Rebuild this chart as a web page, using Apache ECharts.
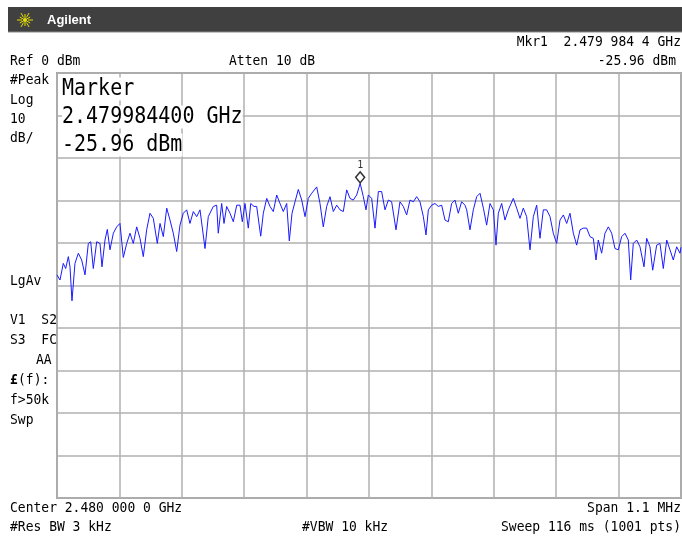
<!DOCTYPE html>
<html>
<head>
<meta charset="utf-8">
<script src="https://cdn.jsdelivr.net/npm/echarts@6/dist/echarts.min.js"></script>
<style>
  html, body { margin: 0; padding: 0; background: #fff; }
  #chart { width: 682px; height: 537px; }
</style>
</head>
<body>
<div id="chart"></div>
<script>
// Sweep settings (frequency offsets in kHz from the centre frequency)
const spanKHz = 1100;
const divKHz = 110;
const refLevelDbm = 0;
const dbPerDiv = 10;

// Trace: [offset kHz, level dBm]
const trace = [
  [-550,-47.5],[-544.7,-48.7],[-538.9,-44.8],[-534.7,-46.0],[-530.0,-43.2],[-527.1,-45.6],[-523.6,-53.6],[-518.3,-44.8],
  [-512.4,-42.4],[-506.5,-44.0],[-500.6,-47.5],[-494.8,-40.1],[-490.6,-39.7],[-486.0,-46.0],[-480.0,-39.7],[-474.2,-40.1],
  [-470.7,-45.6],[-465.4,-39.3],[-461.3,-36.8],[-456.6,-41.6],[-450.7,-37.7],[-444.8,-36.2],[-439.0,-35.4],[-433.1,-43.4],
  [-427.1,-40.1],[-421.3,-37.7],[-415.5,-40.1],[-409.5,-36.2],[-403.7,-38.9],[-397.9,-43.2],[-391.9,-36.9],[-386.1,-33.0],
  [-380.2,-34.2],[-373.2,-40.1],[-368.4,-35.4],[-362.6,-38.5],[-356.6,-31.8],[-350.8,-34.6],[-345.0,-37.7],[-339.0,-42.0],
  [-333.2,-35.8],[-327.4,-33.0],[-321.4,-32.2],[-315.6,-35.4],[-309.7,-32.6],[-303.7,-33.8],[-297.9,-32.2],[-289.1,-41.3],
  [-283.3,-33.8],[-274.5,-31.4],[-268.5,-31.1],[-265.7,-37.7],[-259.7,-30.7],[-255.6,-35.4],[-250.9,-31.4],[-245.0,-33.0],
  [-239.2,-35.0],[-233.2,-31.1],[-227.4,-31.1],[-223.3,-35.0],[-218.6,-30.7],[-212.8,-36.5],[-208.5,-30.7],[-202.7,-31.4],
  [-198.0,-31.4],[-190.9,-38.4],[-186.3,-33.0],[-180.3,-29.5],[-174.5,-31.4],[-168.7,-32.6],[-162.7,-28.7],[-156.9,-30.7],
  [-151.1,-32.6],[-145.1,-30.7],[-140.5,-39.5],[-135.7,-33.0],[-130.4,-30.3],[-124.6,-27.4],[-118.6,-29.9],[-112.8,-33.8],
  [-107.0,-29.5],[-101.0,-28.3],[-92.2,-26.8],[-86.4,-30.7],[-80.6,-36.2],[-74.6,-31.4],[-68.7,-29.1],[-62.9,-32.6],
  [-56.9,-31.1],[-51.1,-32.2],[-45.3,-32.6],[-39.3,-27.5],[-33.5,-29.5],[-27.7,-29.9],[-21.7,-28.7],[-15.6,-25.96],
  [-10.0,-29.1],[-5.3,-32.2],[-1.2,-28.7],
  [4.7,-29.5],[10.6,-36.5],[16.5,-27.9],[22.3,-27.9],[28.2,-32.2],[34.1,-29.9],[39.9,-30.3],[47.6,-36.9],
  [54.6,-30.3],[60.5,-31.4],[66.4,-33.4],[72.3,-29.9],[78.2,-30.3],[84.0,-29.1],[89.9,-30.3],[95.8,-33.8],
  [100.5,-38.1],[104.6,-32.2],[110.4,-31.1],[116.3,-30.7],[122.2,-31.4],[128.1,-31.1],[134.0,-34.6],[139.8,-35.0],
  [145.7,-30.7],[151.6,-29.9],[157.4,-33.0],[163.3,-30.3],[169.2,-31.1],[172.2,-32.2],[178.0,-36.9],[183.9,-32.2],
  [189.8,-29.1],[195.7,-28.3],[201.6,-31.8],[207.4,-35.8],[213.3,-30.7],[219.2,-32.2],[223.9,-40.5],[228.0,-33.0],
  [233.9,-30.7],[239.7,-34.6],[245.6,-32.2],[254.4,-29.5],[260.3,-31.8],[266.2,-34.2],[272.0,-31.8],[277.9,-33.8],
  [283.8,-41.6],[289.7,-33.8],[295.6,-31.1],[301.4,-38.9],[307.3,-32.2],[313.2,-32.2],[319.1,-33.8],[324.9,-37.7],
  [330.8,-40.1],[336.7,-34.6],[342.6,-33.4],[348.5,-35.4],[354.3,-33.0],[360.2,-37.7],[366.1,-40.5],[372.0,-36.9],
  [377.8,-36.5],[383.7,-36.5],[389.6,-38.5],[395.4,-38.9],[400.2,-44.0],[404.2,-39.3],[410.1,-42.4],[416.0,-37.7],
  [421.9,-36.2],[427.8,-37.7],[433.6,-41.3],[439.5,-41.6],[445.4,-38.5],[451.3,-37.7],[457.1,-39.3],[461.3,-48.7],
  [465.9,-40.1],[471.9,-39.3],[477.7,-40.9],[484.8,-45.6],[489.5,-38.9],[495.3,-40.9],[500.1,-46.4],[507.1,-40.5],
  [512.9,-40.1],[518.8,-46.0],[524.8,-39.3],[530.6,-41.6],[536.4,-44.0],[542.4,-40.9],[548.2,-42.4],[550,-41.0]
];

// Marker 1
const markerKHz = -15.6;
const markerDbm = -25.96;

// Annotation texts
const headerTexts = {
  mkr: 'Mkr1  2.479 984 4 GHz',
  ref: 'Ref 0 dBm',
  atten: 'Atten 10 dB',
  mkrLevel: '-25.96 dBm'
};
const footerTexts = {
  center: 'Center 2.480 000 0 GHz',
  span: 'Span 1.1 MHz',
  rbw: '#Res BW 3 kHz',
  vbw: '#VBW 10 kHz',
  sweep: 'Sweep 116 ms (1001 pts)'
};
const markerBoxLines = ['Marker', '2.479984400 GHz', '-25.96 dBm'];

const MONO = "'DejaVu Sans Mono', 'Liberation Mono', monospace";

function txt(x, y, s, opts) {
  opts = opts || {};
  return {
    type: 'text', x: x, y: y, z: 100,
    scaleY: opts.sy || 1.08,
    style: {
      text: s,
      font: (opts.weight || 'normal') + ' ' + (opts.size || 13) + 'px ' + (opts.family || MONO),
      fill: opts.color || '#000',
      textAlign: opts.align || 'left',
      textVerticalAlign: 'middle',
      backgroundColor: opts.bg,
      padding: opts.pad
    }
  };
}

// Starburst logo
function logo(cx, cy) {
  const rays = [];
  for (let i = 0; i < 12; i++) {
    const a = i * Math.PI / 6;
    const r0 = (i % 2) ? 2 : 3, r1 = (i % 2) ? 6 : 8;
    rays.push({
      type: 'line', z: 101,
      shape: { x1: cx + r0 * Math.cos(a), y1: cy + r0 * Math.sin(a), x2: cx + r1 * Math.cos(a), y2: cy + r1 * Math.sin(a) },
      style: { stroke: '#e6e000', lineWidth: 1 }
    });
  }
  rays.push({ type: 'circle', z: 101, shape: { cx: cx, cy: cy, r: 2 }, style: { fill: '#e6e000' } });
  return rays;
}

const graphics = [
  { type: 'rect', z: 99, shape: { x: 8, y: 7, width: 674, height: 25 }, style: { fill: '#404040' } },
  { type: 'line', z: 99, shape: { x1: 8, y1: 32, x2: 682, y2: 32 }, style: { stroke: '#8a8a8a', lineWidth: 1 } },
  ...logo(25, 20),
  txt(47, 20, 'Agilent', { family: "'Liberation Sans', Arial, sans-serif", weight: 'bold', size: 13, color: '#fff', sy: 1 }),

  txt(681, 42, headerTexts.mkr, { align: 'right' }),
  txt(10, 61, headerTexts.ref),
  txt(229, 61, headerTexts.atten),
  txt(676, 61, headerTexts.mkrLevel, { align: 'right' }),

  txt(10, 80, '#Peak'),
  txt(10, 100, 'Log'),
  txt(10, 119, '10'),
  txt(10, 138, 'dB/'),
  txt(10, 281, 'LgAv'),
  txt(10, 320, 'V1  S2'),
  txt(10, 340, 'S3  FC'),
  txt(36, 360, 'AA'),
  txt(10, 380, '£', { weight: 'bold' }),
  txt(18, 380, '(f):'),
  txt(10, 400, 'f>50k'),
  txt(10, 420, 'Swp'),

  txt(62, 89, markerBoxLines[0], { size: 20, bg: '#fff', sy: 1.15 }),
  txt(62, 117, markerBoxLines[1], { size: 20, bg: '#fff', sy: 1.15 }),
  txt(62, 145, markerBoxLines[2], { size: 20, bg: '#fff', sy: 1.15 }),

  txt(10, 508, footerTexts.center),
  txt(681, 508, footerTexts.span, { align: 'right' }),
  txt(10, 527, footerTexts.rbw),
  txt(302, 527, footerTexts.vbw),
  txt(681, 527, footerTexts.sweep, { align: 'right' })
];

const chart = echarts.init(document.getElementById('chart'), null, { renderer: 'canvas' });
chart.setOption({
  animation: false,
  backgroundColor: '#fff',
  grid: {
    left: 57, right: 1, top: 73, bottom: 39,
    show: true, borderColor: '#a0a0a0', borderWidth: 2, backgroundColor: '#fff'
  },
  xAxis: {
    type: 'value',
    min: -spanKHz / 2, max: spanKHz / 2, interval: divKHz,
    axisLine: { show: false }, axisTick: { show: false }, axisLabel: { show: false },
    splitLine: { show: true, lineStyle: { color: '#b0b0b0', width: 1.5 } }
  },
  yAxis: {
    type: 'value',
    min: refLevelDbm - 10 * dbPerDiv, max: refLevelDbm, interval: dbPerDiv,
    axisLine: { show: false }, axisTick: { show: false }, axisLabel: { show: false },
    splitLine: { show: true, lineStyle: { color: '#b0b0b0', width: 1.5 } }
  },
  series: [
    {
      type: 'line',
      data: trace,
      showSymbol: false,
      lineStyle: { color: '#1a1aff', width: 1 },
      z: 5
    },
    {
      type: 'scatter',
      data: [[markerKHz, markerDbm]],
      symbol: 'diamond',
      symbolSize: [9, 11],
      symbolOffset: [0, -6],
      itemStyle: { color: '#fff', borderColor: '#000', borderWidth: 1.5 },
      label: { show: true, formatter: '1', position: 'top', distance: 1, fontSize: 10, fontFamily: MONO, color: '#000' },
      z: 6
    }
  ],
  graphic: graphics
});
</script>
</body>
</html>
